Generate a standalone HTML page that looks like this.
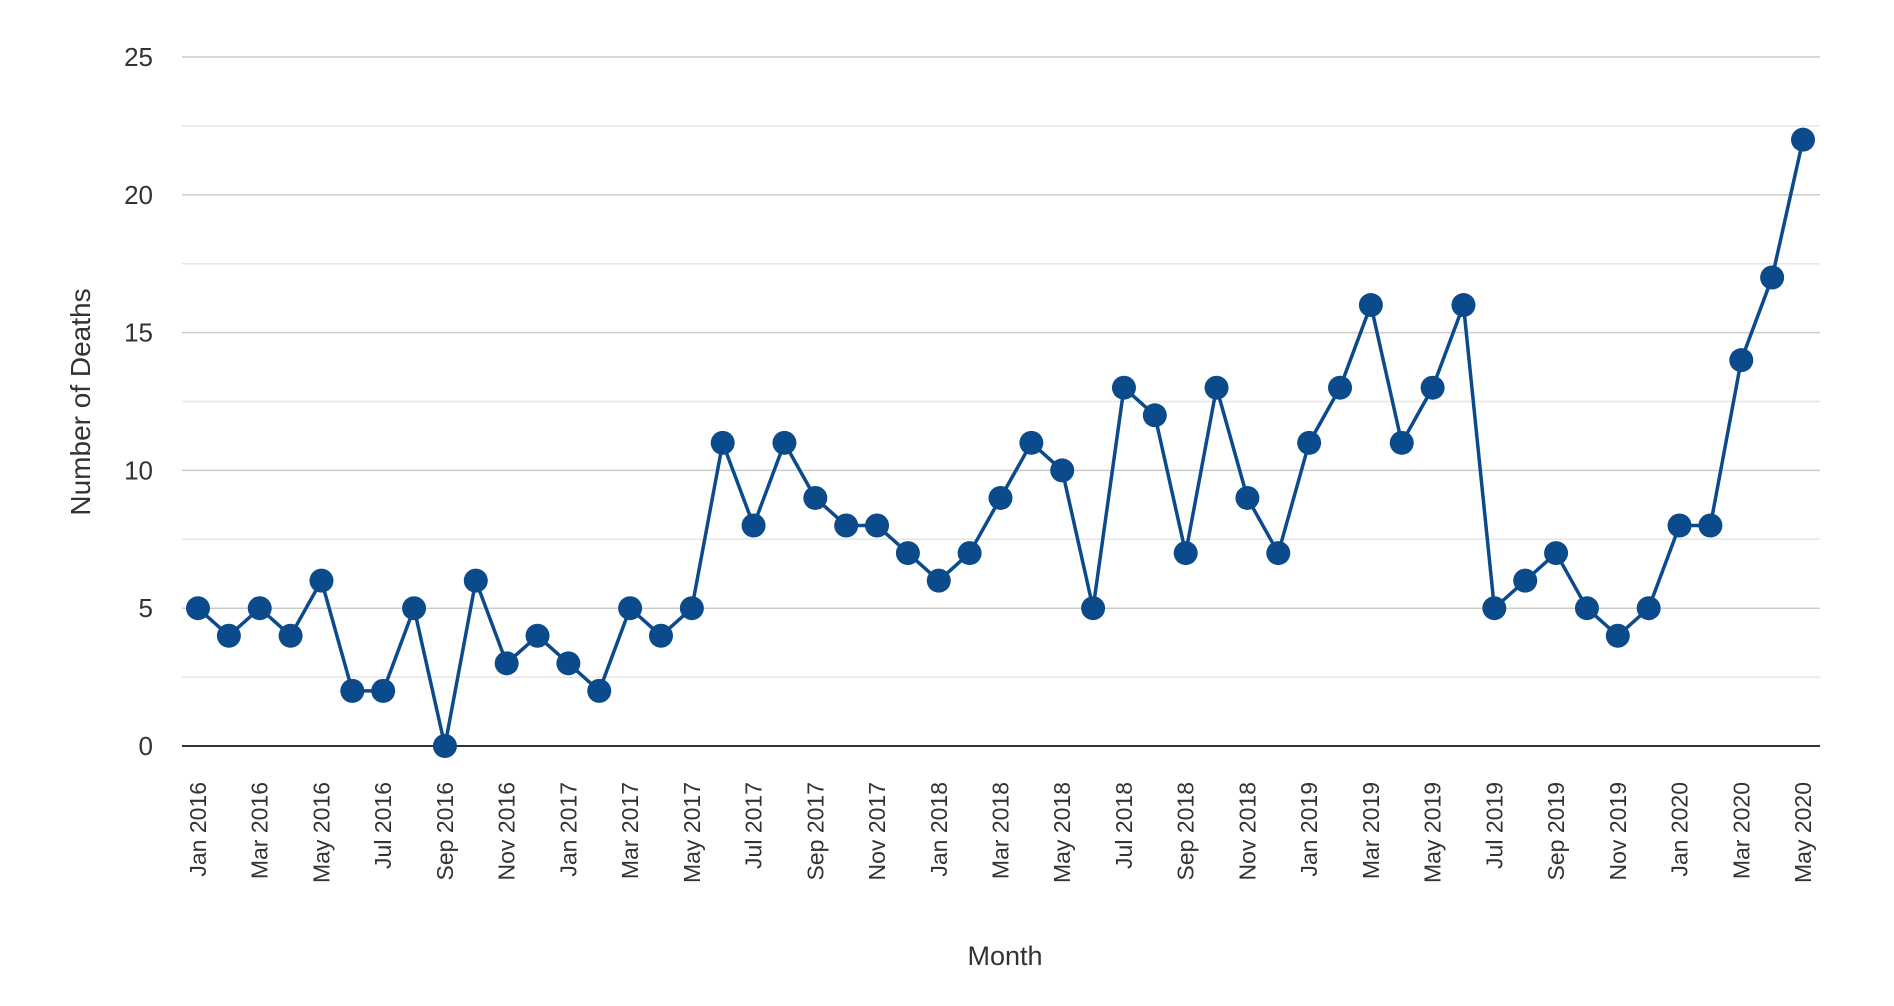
<!DOCTYPE html>
<html><head><meta charset="utf-8"><style>
body{margin:0;background:#fff}
svg{display:block;font-family:"Liberation Sans",sans-serif}
</style></head><body>
<svg id="chart" width="1894" height="1006" viewBox="0 0 1894 1006"></svg>
<script>
const months = ["Jan","Feb","Mar","Apr","May","Jun","Jul","Aug","Sep","Oct","Nov","Dec"];
const startYear = 2016;
const values = [5,4,5,4,6,2,2,5,0,6,3,4, 3,2,5,4,5,11,8,11,9,8,8,7, 6,7,9,11,10,5,13,12,7,13,9,7, 11,13,16,11,13,16,5,6,7,5,4,5, 8,8,14,17,22];
const yTicks = [0,5,10,15,20,25];
const yMinor = [2.5,7.5,12.5,17.5,22.5];
const categories = values.map((v,i)=>months[i%12]+" "+(startYear+Math.floor(i/12)));

const NS="http://www.w3.org/2000/svg";
const svg=document.getElementById("chart");
const L=182,R=1820,T=57,B=746, x0=198,x1=1803, yMax=25;
const xs=i=>x0+(x1-x0)*i/(values.length-1);
const ys=v=>B-(B-T)*v/yMax;
function mk(tag,attrs,parent){const e=document.createElementNS(NS,tag);for(const k in attrs)e.setAttribute(k,attrs[k]);(parent||svg).appendChild(e);return e;}

yMinor.forEach(v=>{
  const l=mk("line",{x1:L,x2:R,y1:ys(v),y2:ys(v),stroke:"#e6e6e6","stroke-width":1.5});
  
  
});
yTicks.forEach(v=>{
  const l=mk("line",{x1:L,x2:R,y1:ys(v),y2:ys(v),stroke:v===0?"#333":"#ccc","stroke-width":v===0?2:1.5});
  
  
  const t=mk("text",{x:153,y:ys(v)+9,"text-anchor":"end","font-size":26,fill:"#333"});
  t.textContent=v;
  
  
});
categories.forEach((c,i)=>{
  if(i%2)return;
  const x=xs(i);
  const t=mk("text",{x:0,y:0,"text-anchor":"end","font-size":23,fill:"#333",transform:`translate(${x+8},782) rotate(-90)`});
  t.textContent=c;
  
  
});
const pts=values.map((v,i)=>xs(i)+","+ys(v)).join(" ");
const line=mk("polyline",{points:pts,fill:"none",stroke:"#0b4a8b","stroke-width":3.5,"stroke-linejoin":"round"});


values.forEach((v,i)=>{
  const c=mk("circle",{cx:xs(i),cy:ys(v),r:12,fill:"#0b4a8b"});
  
  
});
const yt=mk("text",{x:0,y:0,"text-anchor":"middle","font-size":28,fill:"#333",transform:"translate(90,402) rotate(-90)"});
yt.textContent="Number of Deaths";


const xt=mk("text",{x:1005,y:965,"text-anchor":"middle","font-size":27,fill:"#333"});
xt.textContent="Month";


</script>
</body></html>
